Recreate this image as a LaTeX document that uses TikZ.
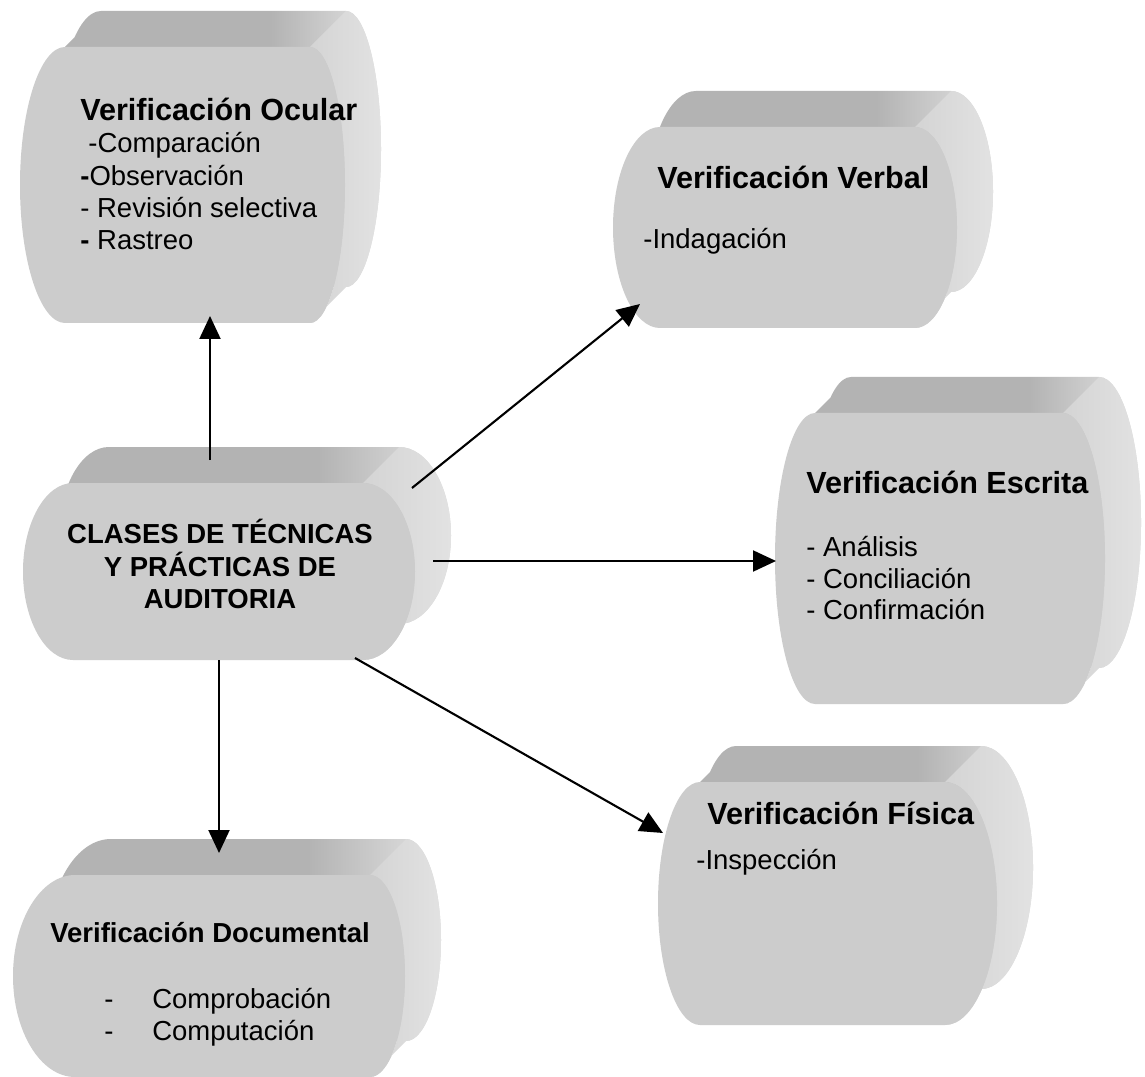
\documentclass[tikz,border=0pt]{standalone}
\usepackage{fontspec}
\setmainfont{Liberation Sans}
\usetikzlibrary{arrows.meta}

\definecolor{topc}{HTML}{B3B3B3}
\definecolor{sidec}{HTML}{DADADA}
\definecolor{sidel}{HTML}{D4D4D4}
\definecolor{sider}{HTML}{E2E2E2}
\definecolor{frontc}{HTML}{CCCCCC}

% top face: flat dark grey that turns light over the rounded right corner
\pgfdeclarehorizontalshading{topface}{100bp}{color(0bp)=(topc); color(58bp)=(topc); color(72bp)=(sidec); color(100bp)=(sidec)}

\newcommand\fs{\fontsize{15.65pt}{18.3pt}\selectfont}
\newcommand\fst{\fontsize{17.4pt}{20pt}\selectfont\bfseries}
\def\dep{36}

% outline of a drum face, shifted by (\ox,\oy)
\newcommand\shapepath{%
 ({\dLx+\ox},{\dTy+\oy}) -- ({\dRx+\ox},{\dTy+\oy})
 .. controls ({\dRx+\ox+\dkr},{\dTy+\oy}) and ({\dRx+\ox+\dbr},{\dMy+\oy-\dHk}) .. ({\dRx+\ox+\dbr},{\dMy+\oy})
 .. controls ({\dRx+\ox+\dbr},{\dMy+\oy+\dHk}) and ({\dRx+\ox+\dkr},{\dBy+\oy}) .. ({\dRx+\ox},{\dBy+\oy})
 -- ({\dLx+\ox},{\dBy+\oy})
 .. controls ({\dLx+\ox-\dkl},{\dBy+\oy}) and ({\dLx+\ox-\dbl},{\dMy+\oy+\dHk}) .. ({\dLx+\ox-\dbl},{\dMy+\oy})
 .. controls ({\dLx+\ox-\dbl},{\dMy+\oy-\dHk}) and ({\dLx+\ox-\dkl},{\dTy+\oy}) .. ({\dLx+\ox},{\dTy+\oy}) -- cycle}

% extruded drum: #1 left x, #2 top y, #3 right x, #4 bottom y, #5 left bulge, #6 right bulge
\newcommand\drum[6]{%
  \pgfmathsetmacro\dLx{#1}\pgfmathsetmacro\dTy{#2}%
  \pgfmathsetmacro\dRx{#3}\pgfmathsetmacro\dBy{#4}%
  \pgfmathsetmacro\dbl{#5}\pgfmathsetmacro\dbr{#6}%
  \pgfmathsetmacro\dMy{(#2+#4)/2}\pgfmathsetmacro\dHk{0.5523*(#4-#2)/2}%
  \pgfmathsetmacro\dkl{0.5523*#5}\pgfmathsetmacro\dkr{0.5523*#6}%
  \def\ox{\dep}\def\oy{(-\dep)}%
  \shade[shading=topface] \shapepath
    (\dLx,\dTy) -- ({\dLx+\dep},{\dTy-\dep}) -- ({\dRx+\dep},{\dTy-\dep}) -- (\dRx,\dTy) -- cycle;
  \shade[left color=sidel, right color=sider]
    ({\dRx+\dep},{\dTy-\dep})
    .. controls ({\dRx+\dep+\dkr},{\dTy-\dep}) and ({\dRx+\dep+\dbr},{\dMy-\dep-\dHk}) .. ({\dRx+\dep+\dbr},{\dMy-\dep})
    .. controls ({\dRx+\dep+\dbr},{\dMy-\dep+\dHk}) and ({\dRx+\dep+\dkr},{\dBy-\dep}) .. ({\dRx+\dep},{\dBy-\dep})
    -- (\dRx,\dBy)
    .. controls ({\dRx+\dkr},\dBy) and ({\dRx+\dbr},{\dMy+\dHk}) .. ({\dRx+\dbr},\dMy)
    .. controls ({\dRx+\dbr},{\dMy-\dHk}) and ({\dRx+\dkr},\dTy) .. (\dRx,\dTy) -- cycle;
  \def\ox{0}\def\oy{0}%
  \fill[frontc] \shapepath;
}

\begin{document}
\begin{tikzpicture}[x=0.02cm, y=-0.02cm,
  txt/.style={anchor=base west, inner sep=0pt, font=\fs},
  ttl/.style={anchor=base west, inner sep=0pt, font=\fst},
  ctr/.style={anchor=base, inner sep=0pt, font=\fs\bfseries},
  arr/.style={line width=1.2pt, -{Triangle[length=0.46cm, width=0.42cm]}}]

\fill[white] (0,0) rectangle (1145,1077);
\useasboundingbox (0,0) rectangle (1145,1077);

% drums
\drum{65}{47}{310}{323}{45}{35}
\drum{660}{127}{915}{328}{47}{42}
\drum{73}{483}{363}{660}{50}{52}
\drum{815}{413}{1063}{704}{40}{42}
\drum{700}{782}{945}{1025}{42}{52}
\drum{75}{875}{370}{1077}{62}{35}

% Verificación Ocular
\node[ttl] (oc0) at (80,121) {Verificación Ocular};
\node[txt] (oc1) at (88,153) {-Comparación};
\node[txt] (oc2) at (80,186) {\textbf{-}Observación};
\node[txt] (oc3) at (80,218) {- Revisión selectiva};
\node[txt] (oc4) at (80,250) {\textbf{-} Rastreo};

% Verificación Verbal
\node[ttl] (ve0) at (657,189) {Verificación Verbal};
\node[txt] (ve1) at (643,249) {-Indagación};

% central drum
\node[ctr] (ce0) at (220,543) {CLASES DE TÉCNICAS};
\node[ctr] (ce1) at (220,576) {Y PRÁCTICAS DE};
\node[ctr] (ce2) at (220,608) {AUDITORIA};

% Verificación Escrita
\node[ttl] (es0) at (806,493) {Verificación Escrita};
\node[txt] (es1) at (806,556) {- Análisis};
\node[txt] (es2) at (806,588) {- Conciliación};
\node[txt] (es3) at (806,619) {- Confirmación};

% Verificación Física
\node[ttl] (fi0) at (707,824) {Verificación Física};
\node[txt] (fi1) at (696,869) {-Inspección};

% Verificación Documental
\node[txt, font=\fs\bfseries] (do0) at (50,942) {Verificación Documental};
\node[txt] (do1) at (104,1008) {-};
\node[txt] (do2) at (152,1008) {Comprobación};
\node[txt] (do3) at (104,1040) {-};
\node[txt] (do4) at (152,1040) {Computación};

% connector ends
\coordinate (cen-n) at (210,460);
\coordinate (ocu-s) at (210,316);
\coordinate (cen-ne) at (412,488);
\coordinate (ver-sw) at (640,304);
\coordinate (cen-e) at (433,561);
\coordinate (esc-w) at (776,561);
\coordinate (cen-se) at (355,658);
\coordinate (fis-w) at (663,833);
\coordinate (cen-s) at (219,660);
\coordinate (doc-n) at (219,853);

\draw[arr] (cen-n) -- (ocu-s);
\draw[arr] (cen-ne) -- (ver-sw);
\draw[arr] (cen-e) -- (esc-w);
\draw[arr] (cen-se) -- (fis-w);
\draw[arr] (cen-s) -- (doc-n);
\end{tikzpicture}
\end{document}
